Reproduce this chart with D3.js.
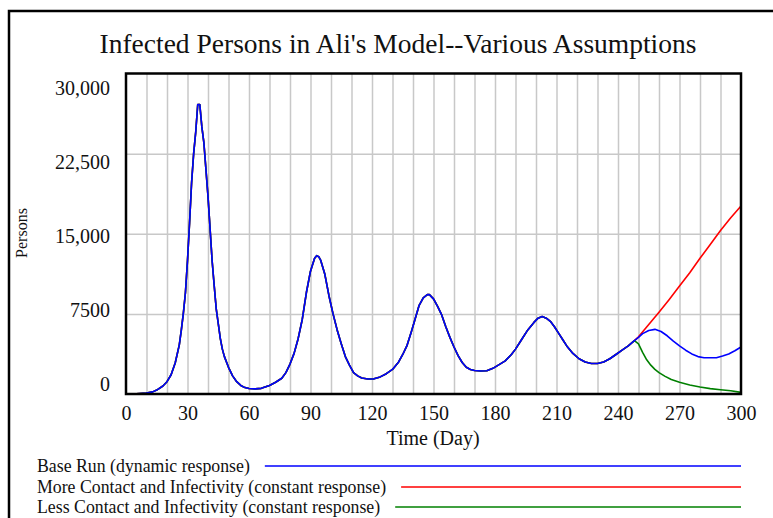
<!DOCTYPE html>
<html>
<head>
<meta charset="utf-8">
<script src="https://cdn.jsdelivr.net/npm/d3@7"></script>
<style>
  html, body { margin: 0; padding: 0; background: #fff; }
  svg { display: block; }
  text { font-family: "Liberation Serif", "Times New Roman", Times, serif; fill: #111; }
</style>
</head>
<body>
<svg id="chart" width="773" height="518"></svg>
<script>
// ---------- data ----------
const title = "Infected Persons in Ali's Model--Various Assumptions";
const xTitle = "Time (Day)";
const yTitle = "Persons";
const xTickValues = [0, 30, 60, 90, 120, 150, 180, 210, 240, 270, 300];
const yTickValues = [0, 7500, 15000, 22500, 30000];
const yTickLabels = ["0", "7500", "15,000", "22,500", "30,000"];
const seriesNames = [
  "Base Run (dynamic response)",
  "More Contact and Infectivity (constant response)",
  "Less Contact and Infectivity (constant response)"
];
const seriesColors = ["#0000ff", "#ff0000", "#008000"];

// Base run (shared by all runs until ~day 248)
const baseTime = [0,5,10,13,15,18,20,22,24,26,27,28,29,30,31,32,33,34,35,36,37,38,39,40,41,42,43,44,45,46,47,48,50,52,54,56,58,60,63,66,70,73,76,78,80,82,84,86,88,90,92,93,94,95,97,99,101,103,105,107,109,111,113,115,118,121,124,127,130,133,135,137,139,141,143,145,147,148,150,152,154,156,158,160,162,164,166,168,170,173,176,179,182,185,188,190,193,196,199,201,203,205,207,209,211,213,215,218,221,224,227,230,233,236,239,242,245,248];
const baseValue = [0,10,80,200,370,750,1150,1800,2900,4600,6000,7600,9500,12500,16000,19800,22500,24500,27100,27100,25000,23500,21000,18500,15500,12500,10200,8000,6600,5200,4200,3500,2500,1700,1150,800,600,520,480,530,800,1100,1470,2000,2800,3800,5200,7000,9500,11500,12700,12950,12850,12500,11200,9200,7500,6000,4700,3500,2700,2000,1700,1500,1400,1420,1600,1900,2300,3000,3700,4500,5700,7000,8300,9000,9300,9300,8900,8200,7400,6300,5300,4400,3600,2950,2500,2300,2200,2150,2180,2400,2750,3100,3700,4200,5100,6000,6700,7100,7250,7100,6800,6300,5700,5100,4500,3800,3300,3000,2850,2850,3000,3300,3700,4100,4500,5000];

// Tails after the policy switch
const baseTailTime = [250,252,255,258,261,264,267,270,273,276,279,282,285,288,291,294,297,300];
const baseTailValue = [5300,5650,5950,6050,5850,5450,4950,4500,4100,3750,3500,3400,3400,3400,3550,3750,4050,4400];
const moreTailTime = [250,255,260,265,270,275,280,285,290,295,300];
const moreTailValue = [5350,6500,7650,8850,10100,11350,12700,14000,15300,16500,17600];
const lessTailTime = [250,252,254,256,258,260,263,266,270,275,280,285,290,295,300];
const lessTailValue = [4700,3900,3200,2700,2300,2000,1650,1350,1100,850,650,500,400,300,150];

// ---------- build series ----------
function buildSeries(tt, tv) {
  const pts = baseTime.map((t, i) => ({t, v: baseValue[i]}));
  tt.forEach((t, i) => pts.push({t, v: tv[i]}));
  return pts;
}
const series = [
  {name: seriesNames[0], color: seriesColors[0], pts: buildSeries(baseTailTime, baseTailValue)},
  {name: seriesNames[1], color: seriesColors[1], pts: buildSeries(moreTailTime, moreTailValue)},
  {name: seriesNames[2], color: seriesColors[2], pts: buildSeries(lessTailTime, lessTailValue)}
];

// ---------- layout ----------
const FONT = "'Liberation Serif', 'Times New Roman', Times, serif";
const svg = d3.select("#chart");
const W = 773, H = 518;
const plot = {left: 126, right: 741, top: 73.5, bottom: 394};

const x = d3.scaleLinear().domain([0, 300]).range([plot.left, plot.right]);
const y = d3.scaleLinear().domain([0, 30000]).range([plot.bottom, plot.top]);
// Vensim spreads y labels evenly over a slightly tighter band
const yLab = d3.scaleLinear().domain([0, 30000]).range([383, 87]);

// outer frame
svg.append("path")
  .attr("d", `M9,${H + 5} V11 H${W + 5}`)
  .attr("fill", "none").attr("stroke", "#000").attr("stroke-width", 2.5);

// title
svg.append("text")
  .attr("x", 398).attr("y", 53)
  .attr("text-anchor", "middle")
  .style("font-family", FONT)
  .style("font-size", "27.5px")
  .text(title);

// grid
const grid = svg.append("g");
grid.append("g")
  .attr("transform", `translate(0,${plot.bottom})`)
  .call(d3.axisBottom(x).tickValues(d3.range(10, 300, 10)).tickSize(-(plot.bottom - plot.top)).tickFormat(""))
  .call(g => g.select(".domain").remove())
  .call(g => g.selectAll("line").attr("stroke", "#c8c8c8").attr("stroke-width", 1.5));
grid.append("g")
  .attr("transform", `translate(${plot.left},0)`)
  .call(d3.axisLeft(y).tickValues([7500, 15000, 22500]).tickSize(-(plot.right - plot.left)).tickFormat(""))
  .call(g => g.select(".domain").remove())
  .call(g => g.selectAll("line").attr("stroke", "#c8c8c8").attr("stroke-width", 1.5));

// lines: red & green under, blue on top
const line = d3.line().x(d => x(d.t)).y(d => y(d.v));
[series[1], series[2], series[0]].forEach(s => {
  svg.append("path")
    .datum(s.pts)
    .attr("d", line)
    .attr("fill", "none")
    .attr("stroke", s.color)
    .attr("stroke-width", 1.6)
    .attr("stroke-linejoin", "round");
});

// plot frame
svg.append("rect")
  .attr("x", plot.left).attr("y", plot.top)
  .attr("width", plot.right - plot.left).attr("height", plot.bottom - plot.top)
  .attr("fill", "none").attr("stroke", "#000").attr("stroke-width", 2.5);

// x axis labels
svg.append("g")
  .attr("transform", `translate(0,${plot.bottom})`)
  .call(d3.axisBottom(x).tickValues(xTickValues).tickSize(0).tickPadding(0).tickFormat(d3.format("d")))
  .call(g => g.select(".domain").remove())
  .call(g => g.selectAll("text").attr("y", 26).attr("dy", null)
    .style("font-size", "20px").style("font-family", FONT).attr("fill", "#111"));

// y axis labels
svg.append("g")
  .attr("transform", `translate(110,0)`)
  .call(d3.axisLeft(yLab).tickValues(yTickValues).tickSize(0).tickPadding(0)
    .tickFormat((d, i) => yTickLabels[i]))
  .call(g => g.select(".domain").remove())
  .call(g => g.selectAll("text").attr("dy", "0.35em")
    .style("font-size", "20px").style("font-family", FONT).attr("fill", "#111"));

// axis titles
svg.append("text")
  .attr("x", 433).attr("y", 445)
  .attr("text-anchor", "middle")
  .style("font-family", FONT)
  .style("font-size", "20px")
  .text(xTitle);
svg.append("text")
  .attr("transform", "translate(27,233) rotate(-90)")
  .attr("text-anchor", "middle")
  .style("font-family", FONT)
  .style("font-size", "16px")
  .text(yTitle);

// legend
const legendY = [472, 493, 513];
series.forEach((s, i) => {
  const t = svg.append("text")
    .attr("x", 37).attr("y", legendY[i])
    .style("font-family", FONT)
    .style("font-size", "17.8px")
    .text(s.name);
  const len = t.node().getComputedTextLength();
  svg.append("line")
    .attr("x1", 37 + len + 15).attr("x2", plot.right)
    .attr("y1", legendY[i] - 6).attr("y2", legendY[i] - 6)
    .attr("stroke", s.color).attr("stroke-width", 1.5);
});
</script>
</body>
</html>
